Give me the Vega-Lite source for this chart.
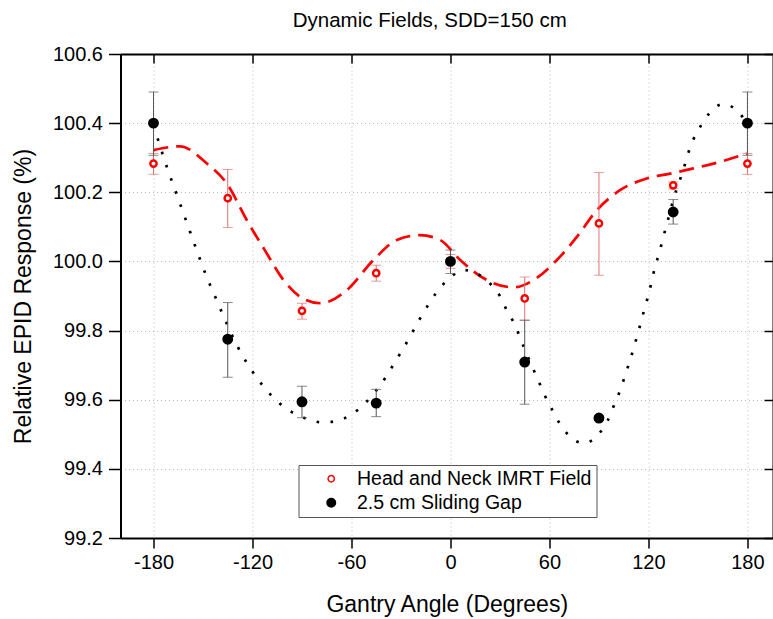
{
  "$schema": "https://vega.github.io/schema/vega-lite/v6.json",
  "width": 652.5,
  "height": 484,
  "autosize": "none",
  "padding": {"left": 120.5, "top": 54, "right": 0, "bottom": 81},
  "background": "white",
  "title": {"text": "Dynamic Fields, SDD=150 cm", "fontSize": 20.5, "fontWeight": "normal", "font": "Liberation Sans", "color": "black", "anchor": "middle", "dx": -17, "offset": 13},
  "config": {
    "font": "Liberation Sans",
    "view": {"stroke": null},
    "axis": {"domainColor": "black", "domainWidth": 2, "tickColor": "black", "tickWidth": 1.5, "labelColor": "black", "titleColor": "black", "labelFontSize": 20, "titleFontSize": 23, "titleFontWeight": "normal", "gridColor": "#b8b8b8", "gridDash": [1, 3], "gridWidth": 1},
    "legend": {"orient": "none", "legendX": 178, "legendY": 411, "strokeColor": "#555", "fillColor": "white", "padding": 4, "labelFontSize": 19.5, "labelColor": "black", "labelLimit": 500, "symbolOffset": 19, "labelOffset": 16, "rowPadding": 3, "title": null}
  },
  "datasets": {
    "points": [
      {"series": "Head and Neck IMRT Field", "angle": -180, "value": 100.283, "lo": 100.252, "hi": 100.312},
      {"series": "Head and Neck IMRT Field", "angle": -135, "value": 100.183, "lo": 100.098, "hi": 100.266},
      {"series": "Head and Neck IMRT Field", "angle": -90, "value": 99.857, "lo": 99.833, "hi": 99.879},
      {"series": "Head and Neck IMRT Field", "angle": -45, "value": 99.966, "lo": 99.943, "hi": 99.989},
      {"series": "Head and Neck IMRT Field", "angle": 0, "value": 100.0, "lo": 99.98, "hi": 100.02},
      {"series": "Head and Neck IMRT Field", "angle": 45, "value": 99.893, "lo": 99.83, "hi": 99.955},
      {"series": "Head and Neck IMRT Field", "angle": 90, "value": 100.11, "lo": 99.96, "hi": 100.257},
      {"series": "Head and Neck IMRT Field", "angle": 135, "value": 100.22, "lo": 100.21, "hi": 100.23},
      {"series": "Head and Neck IMRT Field", "angle": 180, "value": 100.283, "lo": 100.252, "hi": 100.312},
      {"series": "2.5 cm Sliding Gap", "angle": -180, "value": 100.4, "lo": 100.307, "hi": 100.49},
      {"series": "2.5 cm Sliding Gap", "angle": -135, "value": 99.775, "lo": 99.665, "hi": 99.881},
      {"series": "2.5 cm Sliding Gap", "angle": -90, "value": 99.594, "lo": 99.548, "hi": 99.639},
      {"series": "2.5 cm Sliding Gap", "angle": -45, "value": 99.59, "lo": 99.551, "hi": 99.63},
      {"series": "2.5 cm Sliding Gap", "angle": 0, "value": 100.0, "lo": 99.965, "hi": 100.033},
      {"series": "2.5 cm Sliding Gap", "angle": 45, "value": 99.709, "lo": 99.587, "hi": 99.83},
      {"series": "2.5 cm Sliding Gap", "angle": 90, "value": 99.547, "lo": 99.54, "hi": 99.554},
      {"series": "2.5 cm Sliding Gap", "angle": 135, "value": 100.143, "lo": 100.108, "hi": 100.179},
      {"series": "2.5 cm Sliding Gap", "angle": 180, "value": 100.4, "lo": 100.307, "hi": 100.49}
    ],
    "redcurve": [
      {"angle": -180, "value": 100.322}, {"angle": -164, "value": 100.333}, {"angle": -147.6, "value": 100.283},
      {"angle": -135.5, "value": 100.225}, {"angle": -123.4, "value": 100.119}, {"angle": -111.3, "value": 100.023},
      {"angle": -101.2, "value": 99.946}, {"angle": -91.1, "value": 99.898}, {"angle": -79, "value": 99.879},
      {"angle": -62.8, "value": 99.917}, {"angle": -46.7, "value": 100.004}, {"angle": -32.5, "value": 100.062},
      {"angle": -18.4, "value": 100.076}, {"angle": -6.2, "value": 100.062}, {"angle": 5.9, "value": 100.004},
      {"angle": 22.1, "value": 99.946}, {"angle": 38.2, "value": 99.925}, {"angle": 50.3, "value": 99.946},
      {"angle": 64.5, "value": 100.004}, {"angle": 76.6, "value": 100.071}, {"angle": 88.7, "value": 100.148},
      {"angle": 102.8, "value": 100.206}, {"angle": 119, "value": 100.24}, {"angle": 133.1, "value": 100.254},
      {"angle": 147.3, "value": 100.269}, {"angle": 163.4, "value": 100.288}, {"angle": 179.6, "value": 100.312}
    ],
    "blackcurve": [
      {"angle": -180, "value": 100.395}, {"angle": -171.9, "value": 100.273}, {"angle": -165.8, "value": 100.192},
      {"angle": -159.8, "value": 100.112}, {"angle": -153.7, "value": 100.031}, {"angle": -147.3, "value": 99.95},
      {"angle": -143.6, "value": 99.909}, {"angle": -136.5, "value": 99.83}, {"angle": -128.5, "value": 99.749},
      {"angle": -117.9, "value": 99.667}, {"angle": -103.2, "value": 99.588}, {"angle": -86, "value": 99.543},
      {"angle": -77.3, "value": 99.534}, {"angle": -68.8, "value": 99.539}, {"angle": -60.4, "value": 99.556},
      {"angle": -51.7, "value": 99.59}, {"angle": -39, "value": 99.667}, {"angle": -33.5, "value": 99.71},
      {"angle": -28.5, "value": 99.749}, {"angle": -23.4, "value": 99.792}, {"angle": -18.8, "value": 99.832},
      {"angle": -13.9, "value": 99.871}, {"angle": -8.2, "value": 99.912}, {"angle": 0, "value": 99.954},
      {"angle": 7.9, "value": 99.975}, {"angle": 16, "value": 99.965}, {"angle": 24, "value": 99.936},
      {"angle": 30.2, "value": 99.898}, {"angle": 34.6, "value": 99.854}, {"angle": 39.2, "value": 99.816},
      {"angle": 42.7, "value": 99.773}, {"angle": 49.7, "value": 99.694}, {"angle": 53.3, "value": 99.655},
      {"angle": 57, "value": 99.614}, {"angle": 61.5, "value": 99.572}, {"angle": 66.1, "value": 99.532},
      {"angle": 72.5, "value": 99.493}, {"angle": 81, "value": 99.474}, {"angle": 89.7, "value": 99.5},
      {"angle": 95.2, "value": 99.539}, {"angle": 98.8, "value": 99.58}, {"angle": 102.3, "value": 99.62},
      {"angle": 105.3, "value": 99.662}, {"angle": 107.9, "value": 99.7}, {"angle": 110.6, "value": 99.742},
      {"angle": 113, "value": 99.782}, {"angle": 115.4, "value": 99.823}, {"angle": 117.6, "value": 99.863},
      {"angle": 120, "value": 99.903}, {"angle": 122, "value": 99.943}, {"angle": 124, "value": 99.984},
      {"angle": 126.6, "value": 100.025}, {"angle": 128.7, "value": 100.065}, {"angle": 131.1, "value": 100.107},
      {"angle": 135.6, "value": 100.187}, {"angle": 141.2, "value": 100.266}, {"angle": 143.7, "value": 100.307},
      {"angle": 146.9, "value": 100.349}, {"angle": 151.3, "value": 100.389}, {"angle": 157, "value": 100.429},
      {"angle": 165.1, "value": 100.455}, {"angle": 173.6, "value": 100.437}, {"angle": 179.6, "value": 100.4}
    ]
  },
  "resolve": {"axis": {"x": "independent", "y": "independent"}},
  "layer": [
    {
      "data": {"name": "redcurve"},
      "mark": {"type": "line", "color": "#ff0000", "strokeWidth": 2.7, "strokeDash": [15, 8], "interpolate": "monotone"},
      "encoding": {
        "x": {"field": "angle", "type": "quantitative", "scale": {"domain": [-200, 195.5], "nice": false, "zero": false},
          "axis": {"orient": "bottom", "values": [-180, -120, -60, 0, 60, 120, 180], "labelExpr": "'' + datum.value", "tickSize": 10, "labelPadding": 4, "grid": true, "title": "Gantry Angle (Degrees)", "titlePadding": 21}},
        "y": {"field": "value", "type": "quantitative", "scale": {"domain": [99.2, 100.6], "nice": false, "zero": false},
          "axis": {"orient": "left", "values": [99.2, 99.4, 99.6, 99.8, 100.0, 100.2, 100.4, 100.6], "format": ".1f", "tickSize": 12, "labelPadding": 6, "grid": true, "title": "Relative EPID Response (%)", "titlePadding": 17}}
      }
    },
    {
      "data": {"name": "blackcurve"},
      "mark": {"type": "line", "color": "black", "strokeWidth": 2.7, "strokeDash": [2.6, 11.4], "interpolate": "monotone"},
      "encoding": {
        "x": {"field": "angle", "type": "quantitative",
          "axis": {"orient": "top", "values": [-180, -120, -60, 0, 60, 120, 180], "tickSize": -9, "labels": false, "grid": false, "title": null}},
        "y": {"field": "value", "type": "quantitative",
          "axis": {"orient": "right", "values": [99.2, 99.4, 99.6, 99.8, 100.0, 100.2, 100.4, 100.6], "tickSize": -9, "labels": false, "grid": false, "title": null}}
      }
    },
    {
      "data": {"name": "points"},
      "transform": [{"filter": "datum.series === 'Head and Neck IMRT Field'"}],
      "layer": [
        {"mark": {"type": "rule", "color": "#e07070", "strokeWidth": 1},
          "encoding": {"x": {"field": "angle", "type": "quantitative", "axis": null}, "y": {"field": "lo", "type": "quantitative", "axis": null}, "y2": {"field": "hi"}}},
        {"mark": {"type": "tick", "orient": "horizontal", "color": "#e07070", "size": 10, "thickness": 1},
          "encoding": {"x": {"field": "angle", "type": "quantitative", "axis": null}, "y": {"field": "lo", "type": "quantitative", "axis": null}}},
        {"mark": {"type": "tick", "orient": "horizontal", "color": "#e07070", "size": 10, "thickness": 1},
          "encoding": {"x": {"field": "angle", "type": "quantitative", "axis": null}, "y": {"field": "hi", "type": "quantitative", "axis": null}}}
      ]
    },
    {
      "data": {"name": "points"},
      "transform": [{"filter": "datum.series === '2.5 cm Sliding Gap'"}],
      "layer": [
        {"mark": {"type": "rule", "color": "#555555", "strokeWidth": 1},
          "encoding": {"x": {"field": "angle", "type": "quantitative", "axis": null}, "y": {"field": "lo", "type": "quantitative", "axis": null}, "y2": {"field": "hi"}}},
        {"mark": {"type": "tick", "orient": "horizontal", "color": "#555555", "size": 10, "thickness": 1},
          "encoding": {"x": {"field": "angle", "type": "quantitative", "axis": null}, "y": {"field": "lo", "type": "quantitative", "axis": null}}},
        {"mark": {"type": "tick", "orient": "horizontal", "color": "#555555", "size": 10, "thickness": 1},
          "encoding": {"x": {"field": "angle", "type": "quantitative", "axis": null}, "y": {"field": "hi", "type": "quantitative", "axis": null}}}
      ]
    },
    {
      "data": {"name": "points"},
      "mark": {"type": "point", "shape": "circle", "filled": false, "opacity": 1, "strokeWidth": 2.4},
      "encoding": {
        "x": {"field": "angle", "type": "quantitative", "axis": null},
        "y": {"field": "value", "type": "quantitative", "axis": null},
        "fill": {"field": "series", "type": "nominal", "scale": {"domain": ["Head and Neck IMRT Field", "2.5 cm Sliding Gap"], "range": ["white", "black"]}},
        "stroke": {"field": "series", "type": "nominal", "scale": {"domain": ["Head and Neck IMRT Field", "2.5 cm Sliding Gap"], "range": ["#ff0000", "black"]}},
        "size": {"field": "series", "type": "nominal", "scale": {"domain": ["Head and Neck IMRT Field", "2.5 cm Sliding Gap"], "range": [40, 72]}}
      }
    }
  ]
}
